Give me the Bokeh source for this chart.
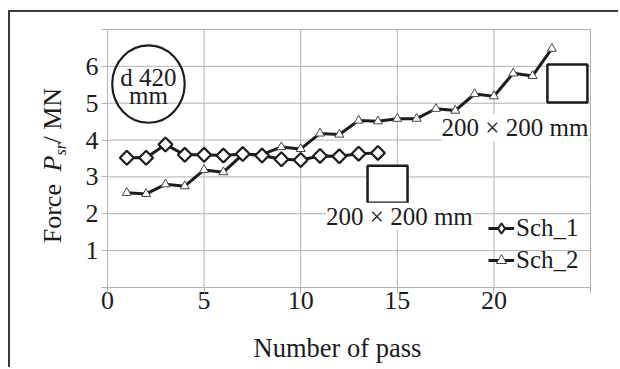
import numpy as np
from bokeh.plotting import figure
from bokeh.models import (Range1d, FixedTicker, Label, Legend, LegendItem,
                          ColumnDataSource)
from bokeh.core.properties import value
from bokeh.embed import file_html
from bokeh.resources import INLINE

# ---------------- data ----------------
pass_sch1 = [1, 2, 3, 4, 5, 6, 7, 8, 9, 10, 11, 12, 13, 14]
force_sch1 = [3.52, 3.52, 3.88, 3.60, 3.60, 3.58, 3.62, 3.58, 3.48, 3.46,
              3.57, 3.56, 3.63, 3.65]
pass_sch2 = [1, 2, 3, 4, 5, 6, 7, 8, 9, 10, 11, 12, 13, 14, 15, 16, 17, 18,
             19, 20, 21, 22, 23]
force_sch2 = [2.57, 2.54, 2.80, 2.75, 3.19, 3.13, 3.61, 3.61, 3.81, 3.76,
              4.18, 4.15, 4.53, 4.51, 4.58, 4.58, 4.85, 4.80, 5.25, 5.19,
              5.81, 5.74, 6.48]
x_ticks = [0, 5, 10, 15, 20, 25]
y_ticks = [0, 1, 2, 3, 4, 5, 6, 7]
x_tick_labels = ["0", "5", "10", "15", "20", ""]
y_tick_labels = ["", "1", "2", "3", "4", "5", "6", ""]
series_names = ["Sch_1", "Sch_2"]
billet_text = ["d 420", "mm"]
square_text = "200 \u00d7 200 mm"
x_title = "Number of pass"

FONT = "Liberation Serif"
INK = "#1c1c1c"
GRID = "#b2b2b2"

X0, X1 = 0, 25
Y0, Y1 = 0, 7
# frame covers the whole canvas; axes are placed at fixed locations
p = figure(width=610, height=357, output_backend="svg", toolbar_location=None,
           x_range=Range1d(-5.0207, 26.5528), y_range=Range1d(-2.2248, 7.4612),
           min_border=0)
p.styles = {"margin-left": "8px", "margin-top": "10px",
            "border-left": "2px solid #3a3a3a", "border-top": "2px solid #3a3a3a"}
p.outline_line_color = None
p.grid.visible = False

p.xaxis.fixed_location = 0
p.yaxis.fixed_location = 0
p.xaxis.bounds = (X0, X1)
p.yaxis.bounds = (Y0, Y1)
p.xaxis.ticker = FixedTicker(ticks=x_ticks)
p.yaxis.ticker = FixedTicker(ticks=y_ticks)
# tick texts are drawn below in the serif face
p.xaxis.major_label_overrides = {t: "" for t in x_ticks}
p.yaxis.major_label_overrides = {t: "" for t in y_ticks}
p.axis.axis_line_color = GRID
p.axis.major_tick_line_color = GRID
p.axis.minor_tick_line_color = None
p.axis.major_tick_out = 6
p.axis.major_tick_in = 0

# grid lines (inside plot area only)
gx = [t for t in x_ticks if t > X0]
gy = [t for t in y_ticks if t > Y0]
p.segment(x0=gx, y0=[Y0] * len(gx), x1=gx, y1=[Y1] * len(gx),
          line_color=GRID, line_width=1)
p.segment(x0=[X0] * len(gy), y0=gy, x1=[X1] * len(gy), y1=gy,
          line_color=GRID, line_width=1)

# tick labels
p.text(x=x_ticks, y=[Y0] * len(x_ticks), text=x_tick_labels,
       text_font=value(FONT), text_font_size="26px", text_color=INK,
       text_align="center", text_baseline="top", y_offset=5)
p.text(x=[X0] * len(y_ticks), y=y_ticks, text=y_tick_labels,
       text_font=value(FONT), text_font_size="26px", text_color=INK,
       text_align="right", text_baseline="middle", x_offset=-9)

# annotations: squares and circle
p.quad(left=[13.46, 22.77], right=[15.53, 24.84], bottom=[2.30, 5.02],
       top=[3.30, 6.05], fill_color="white", line_color=INK, line_width=2.5)
p.ellipse(x=[2.12], y=[5.52], width=3.75, height=2.1, fill_color=None,
          line_color=INK, line_width=2.2)

# series
src1 = ColumnDataSource(dict(x=pass_sch1, y=force_sch1))
src2 = ColumnDataSource(dict(x=pass_sch2, y=force_sch2))
l2 = p.line("x", "y", source=src2, line_color=INK, line_width=3)
m2 = p.scatter("x", "y", source=src2, marker="triangle", size=9,
               fill_color="white", line_color="#444444", line_width=1)
l1 = p.line("x", "y", source=src1, line_color=INK, line_width=3)
m1 = p.scatter("x", "y", source=src1, marker="square", angle=np.pi / 4,
               size=9.8, fill_color="white", line_color=INK, line_width=2.2)
# legend glyph for Sch_1 (legend does not rotate markers): hidden diamond
m1_leg = p.scatter("x", "y", source=src1, marker="diamond", size=12,
                   fill_color="white", line_color=INK, line_width=2,
                   visible=False)

legend = Legend(items=[LegendItem(label=series_names[0], renderers=[l1, m1_leg]),
                       LegendItem(label=series_names[1], renderers=[l2, m2])],
                location=(478, 93), glyph_width=26, glyph_height=32,
                label_height=32, label_standoff=2, spacing=0, padding=0,
                margin=0, border_line_color=None, background_fill_alpha=0,
                inactive_fill_alpha=0,
                label_text_font=FONT, label_text_font_size="25px",
                label_text_color=INK)
p.add_layout(legend)

def lab(x, y, text, size="25px", style="normal", align="center", angle=0,
        bg=None, baseline="middle"):
    lb = Label(x=x, y=y, text=text, text_font=FONT, text_font_size=size,
               text_font_style=style, text_align=align, text_baseline=baseline,
               text_color=INK, angle=angle)
    if bg:
        lb.background_fill_color = bg
    p.add_layout(lb)

lab(2.12, 5.70, billet_text[0])
lab(2.12, 5.20, billet_text[1])
lab(15.11, 1.93, square_text, bg="white")
lab(21.09, 4.34, square_text, bg="white")

# axis titles
lab(11.905, -1.655, x_title, size="26.5px")
a = np.pi / 2
lab(-2.85, 1.20, "Force", size="26px", align="left", angle=a)
lab(-2.85, 3.147, "P", size="26px", style="italic", align="left", angle=a)
lab(-2.45, 3.581, "sr", size="16px", style="italic", align="left", angle=a)
lab(-2.85, 3.907, "/ MN", size="26px", align="left", angle=a)

open("out.html", "w").write(file_html(p, INLINE))
